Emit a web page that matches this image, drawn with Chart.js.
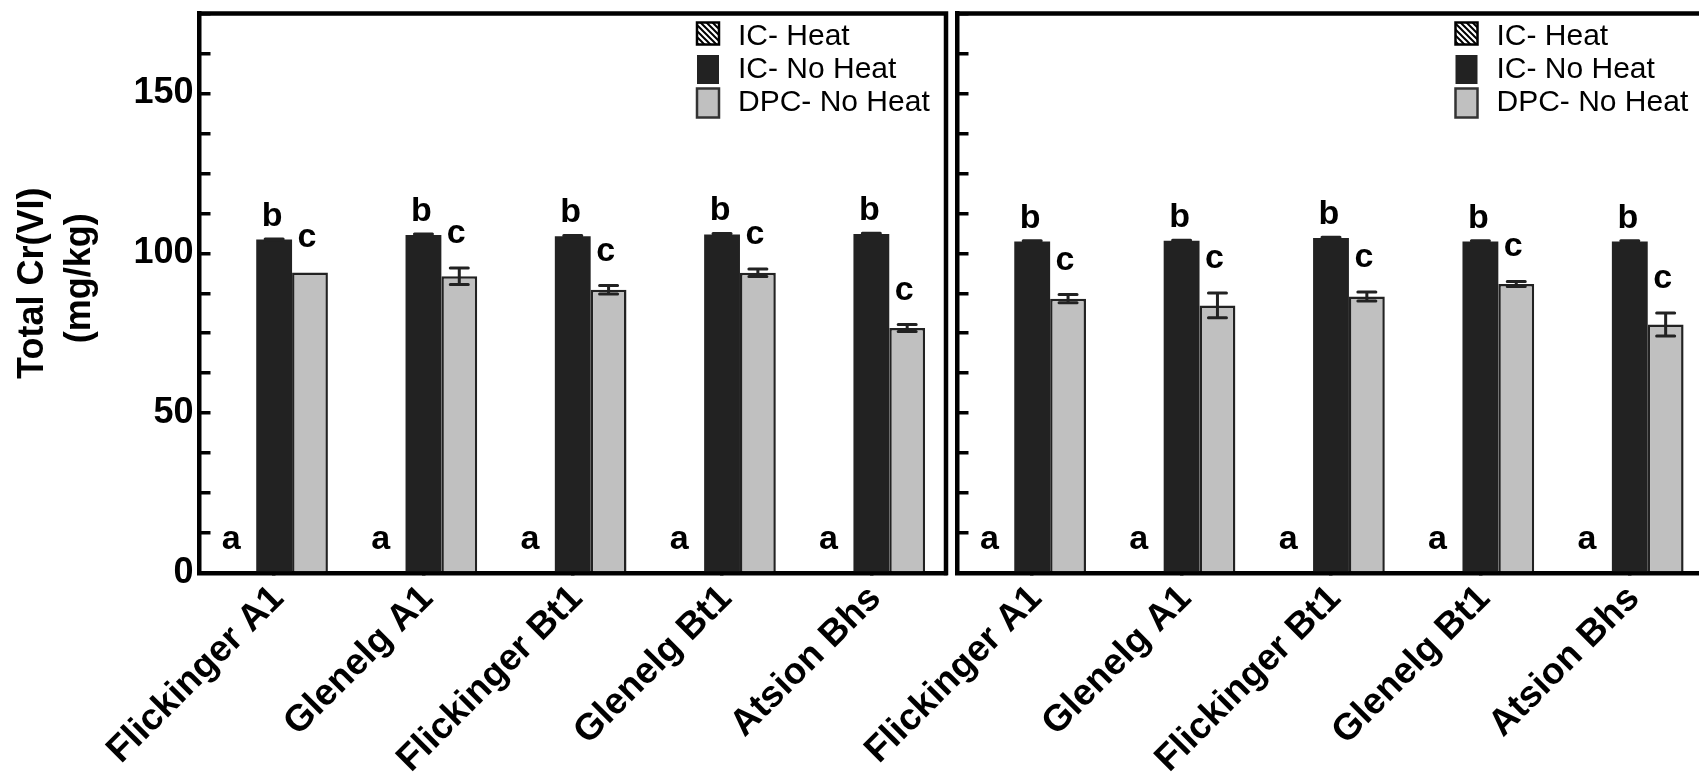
<!DOCTYPE html>
<html>
<head>
<meta charset="utf-8">
<script src="https://cdn.jsdelivr.net/npm/chart.js@4.4.0/dist/chart.umd.min.js"></script>
<style>
  html, body { margin: 0; padding: 0; background: #fff; overflow: hidden; }
  #wrap { position: relative; width: 1699px; height: 780px; overflow: hidden; }
  #leftChart { position: absolute; left: 0; top: 0; }
  #rightChart { position: absolute; left: 760px; top: 0; }
</style>
</head>
<body>
<div id="wrap">
  <canvas id="leftChart" width="952" height="780"></canvas>
  <canvas id="rightChart" width="950" height="780"></canvas>
</div>
<script>
const categories = ['Flickinger A1', 'Glenelg A1', 'Flickinger Bt1', 'Glenelg Bt1', 'Atsion Bhs'];
const seriesNames = ['IC- Heat', 'IC- No Heat', 'DPC- No Heat'];
const letters = ['a', 'b', 'c'];
const yLabelValues = [0, 50, 100, 150];
// leading spaces nudge the centred, rotated title a little upwards
const yTitle = ['  Total Cr(VI)', '   (mg/kg)'];

// left panel
const icHeatLeft = [0, 0, 0, 0, 0];
const icNoHeatLeft = [104.3, 105.7, 105.3, 105.9, 106.0];
const icNoHeatErrLeft = [0.2, 0.3, 0.3, 0.3, 0.3];
const dpcLeft = [94.0, 92.8, 88.6, 93.9, 76.6];
const dpcErrLeft = [0, 2.6, 1.3, 1.2, 1.1];

// right panel
const icHeatRight = [0, 0, 0, 0, 0];
const icNoHeatRight = [103.7, 103.9, 104.8, 103.7, 103.7];
const icNoHeatErrRight = [0.2, 0.2, 0.2, 0.2, 0.2];
const dpcRight = [85.8, 83.7, 86.5, 90.4, 77.7];
const dpcErrRight = [1.3, 3.9, 1.4, 0.8, 3.6];

const FONT = 'Arial, "Liberation Sans", sans-serif';
Chart.defaults.font.family = FONT;
Chart.defaults.color = '#000';

function makeHatch() {
    const c = document.createElement('canvas');
    c.width = 6; c.height = 6;
    const g = c.getContext('2d');
    g.fillStyle = '#fff';
    g.fillRect(0, 0, 6, 6);
    g.strokeStyle = '#000';
    g.lineWidth = 2;
    g.beginPath();
    g.moveTo(-1, -1); g.lineTo(7, 7);
    g.moveTo(-1, 5); g.lineTo(1, 7);
    g.moveTo(5, -1); g.lineTo(7, 1);
    g.stroke();
    return g.createPattern(c, 'repeat');
}
const hatch = makeHatch();

const errorBars = {
    id: 'errorBars',
    afterDatasetsDraw(chart) {
        const ctx = chart.ctx, y = chart.scales.y;
        ctx.save();
        ctx.strokeStyle = '#222';
        ctx.lineWidth = 3;
        ctx.lineCap = 'round';
        chart.data.datasets.forEach((ds, i) => {
            if (!ds.errors) return;
            chart.getDatasetMeta(i).data.forEach((bar, j) => {
                const e = ds.errors[j];
                if (!e) return;
                const top = y.getPixelForValue(ds.data[j] + e);
                const bot = y.getPixelForValue(ds.data[j] - e);
                ctx.beginPath();
                ctx.moveTo(bar.x, top); ctx.lineTo(bar.x, bot);
                ctx.moveTo(bar.x - 9, top); ctx.lineTo(bar.x + 9, top);
                ctx.moveTo(bar.x - 9, bot); ctx.lineTo(bar.x + 9, bot);
                ctx.stroke();
            });
        });
        ctx.restore();
    }
};

const letterLabels = {
    id: 'letterLabels',
    afterDatasetsDraw(chart) {
        const ctx = chart.ctx, y = chart.scales.y;
        const dx = [-7, -2, -3];
        const dy = [-24, -13, -25];
        ctx.save();
        ctx.font = 'bold 34px ' + FONT;
        ctx.fillStyle = '#000';
        ctx.textAlign = 'center';
        ctx.textBaseline = 'alphabetic';
        chart.data.datasets.forEach((ds, i) => {
            chart.getDatasetMeta(i).data.forEach((bar, j) => {
                const e = ds.errors ? ds.errors[j] : 0;
                const top = y.getPixelForValue(ds.data[j] + e);
                ctx.fillText(letters[i], bar.x + dx[i], top + dy[i]);
            });
        });
        ctx.restore();
    }
};

// top and right edges of the box (left/bottom come from the axes)
const frame = {
    id: 'frame',
    afterDraw(chart) {
        const {ctx, chartArea: a} = chart;
        ctx.save();
        ctx.strokeStyle = '#000';
        ctx.lineWidth = 4.5;
        ctx.beginPath();
        ctx.moveTo(a.left - 2.25, a.top);
        ctx.lineTo(a.right, a.top);
        ctx.lineTo(a.right, a.bottom + 2.25);
        ctx.stroke();
        ctx.restore();
    }
};

const boxLegend = {
    id: 'boxLegend',
    afterDraw(chart) {
        const {ctx, chartArea: a} = chart;
        const x0 = a.right - 249;
        const boxRows = [20, 56, 89.5];
        const textRows = [23, 56, 89];
        const boxH = [22, 29, 29];
        ctx.save();
        ctx.font = '30px ' + FONT;
        ctx.textBaseline = 'middle';
        ctx.textAlign = 'left';
        chart.data.datasets.forEach((ds, i) => {
            const cy = a.top + boxRows[i];
            ctx.fillStyle = ds.backgroundColor;
            ctx.fillRect(x0, cy - boxH[i] / 2, 22, boxH[i]);
            if (i !== 1) {
                ctx.lineWidth = 2.5;
                ctx.strokeStyle = i === 0 ? '#000' : '#333';
                ctx.strokeRect(x0, cy - boxH[i] / 2, 22, boxH[i]);
            }
            ctx.fillStyle = '#000';
            ctx.fillText(ds.label, x0 + 41, a.top + textRows[i]);
        });
        ctx.restore();
    }
};

function noPadding(s) {
    s.paddingTop = 0; s.paddingBottom = 0; s.paddingLeft = 0; s.paddingRight = 0;
}

function buildPanel(canvasId, icHeat, icNoHeat, icNoHeatErr, dpc, dpcErr, showYLabels, yAxisWidth, rightPad) {
    return new Chart(document.getElementById(canvasId), {
        type: 'bar',
        data: {
            labels: categories,
            datasets: [
                { label: seriesNames[0], data: icHeat, backgroundColor: hatch, borderWidth: 0 },
                { label: seriesNames[1], data: icNoHeat, errors: icNoHeatErr, backgroundColor: '#222', borderWidth: 0 },
                { label: seriesNames[2], data: dpc, errors: dpcErr, backgroundColor: '#c0c0c0', borderColor: '#222', borderWidth: 2.5 }
            ]
        },
        options: {
            responsive: false,
            animation: false,
            devicePixelRatio: 1,
            layout: { padding: { top: 13.5, right: rightPad, left: 0, bottom: 0 } },
            datasets: { bar: { categoryPercentage: 0.72, barPercentage: 1 } },
            plugins: { legend: { display: false }, tooltip: { enabled: false } },
            scales: {
                x: {
                    z: 1,
                    grid: { drawOnChartArea: false, offset: false, tickLength: -10, lineWidth: 3.5, color: '#000' },
                    border: { display: true, width: 4.5, color: '#000' },
                    ticks: {
                        autoSkip: false, minRotation: 45, maxRotation: 45,
                        labelOffset: 4, padding: 14, color: '#000',
                        font: { size: 37, weight: 'bold' }
                    },
                    afterFit(s) { s.height = 207; noPadding(s); }
                },
                y: {
                    z: 1,
                    min: 0,
                    max: 175,
                    grid: { drawOnChartArea: false, tickLength: -11, lineWidth: 3.5, color: '#000' },
                    border: { display: true, width: 4.5, color: '#000' },
                    ticks: {
                        stepSize: 12.5, autoSkip: false, padding: 17, color: '#000',
                        font: { size: 36, weight: 'bold' },
                        callback: v => (showYLabels && yLabelValues.includes(v)) ? String(v) : ''
                    },
                    title: {
                        display: showYLabels, text: yTitle, color: '#000',
                        font: { size: 36, weight: 'bold', lineHeight: 1.3 },
                        padding: { top: 10, bottom: 0 }
                    },
                    afterFit(s) { s.width = yAxisWidth; noPadding(s); }
                }
            }
        },
        plugins: [errorBars, letterLabels, frame, boxLegend]
    });
}

buildPanel('leftChart', icHeatLeft, icNoHeatLeft, icNoHeatErrLeft, dpcLeft, dpcErrLeft, true, 199.5, 6);
buildPanel('rightChart', icHeatRight, icNoHeatRight, icNoHeatErrRight, dpcRight, dpcErrRight, false, 197.5, 5.5);
</script>
</body>
</html>
